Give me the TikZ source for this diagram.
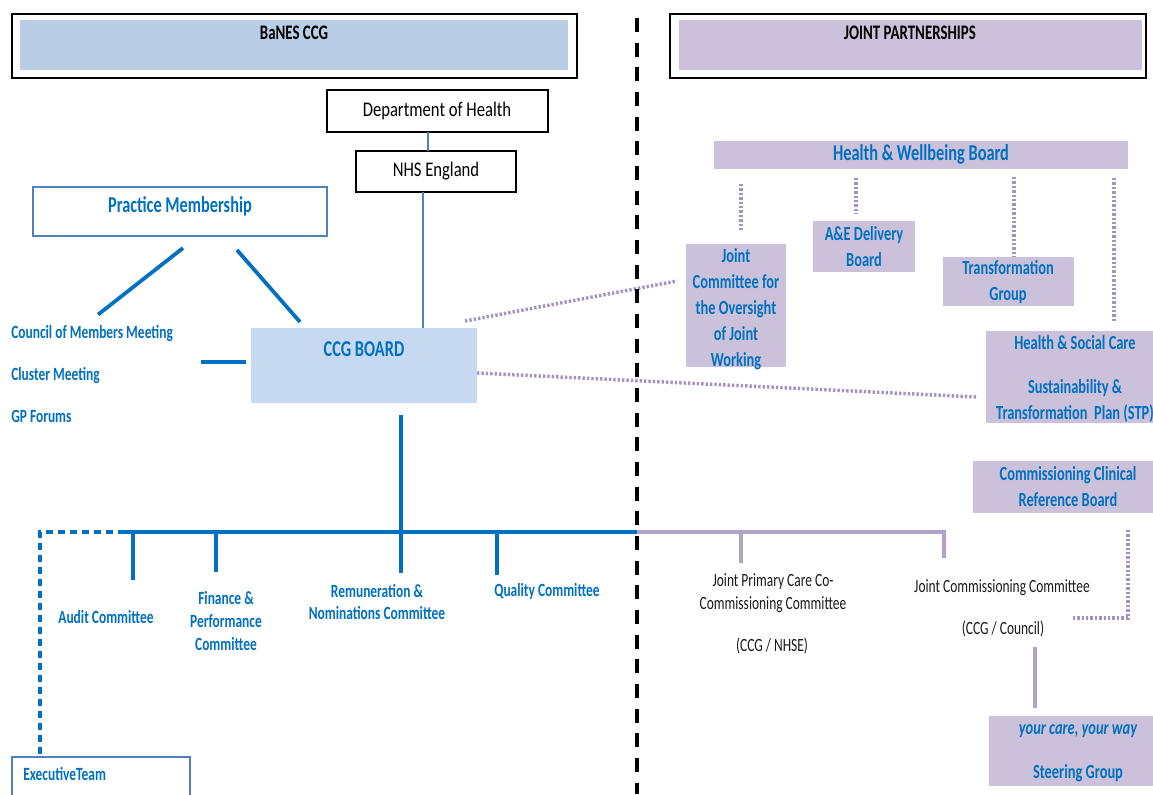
\documentclass[tikz,border=0pt]{standalone}
\usepackage{fontspec}
\setmainfont{Carlito}[FakeStretch=0.8]
\newfontfamily\tightfont{Carlito}[FakeStretch=0.72]
\usetikzlibrary{positioning,fit,calc}

\definecolor{hdrblue}{HTML}{B9CDE5}
\definecolor{boardblue}{HTML}{C6D9F1}
\definecolor{lilac}{HTML}{CCC1DA}
\definecolor{lilacline}{HTML}{B3A2C7}
\definecolor{dotlilac}{HTML}{A393C2}
\definecolor{orgblue}{HTML}{0070C0}
\definecolor{steel}{HTML}{4F81BD}
\definecolor{inkgrey}{HTML}{1A1A1A}

\tikzset{
  area/.style={fit={#1}, inner sep=0pt, outer sep=0pt},
  hdrframe/.style={draw=black, line width=1pt},
  plainbox/.style={draw=black, line width=0.9pt},
  plainlbl/.style={inner sep=0pt, font=\fontsize{15.6}{18}\selectfont},
  rimbox/.style={draw=steel, line width=0.8pt},
  jpbox/.style={fill=lilac},
  hdrlbl/.style={inner sep=0pt, font=\tightfont\bfseries\fontsize{15.5}{18}\selectfont},
  biglbl/.style={inner sep=0pt, text=orgblue, font=\tightfont\bfseries\fontsize{17}{20}\selectfont},
  boxlbl/.style={inner sep=0pt, align=center, text=orgblue, font=\tightfont\bfseries\fontsize{15}{19.5}\selectfont},
  ctte/.style={inner sep=0pt, align=center, text=orgblue, font=\tightfont\bfseries\fontsize{14}{17}\selectfont},
  jctte/.style={inner sep=0pt, align=center, text=inkgrey, font=\tightfont\fontsize{14}{17}\selectfont},
  ccgline/.style={draw=orgblue, line width=2.8pt},
  linkline/.style={draw=steel, line width=2.2pt},
  jpline/.style={draw=lilacline, line width=2.8pt},
  dotlink/.style={draw=dotlilac, line width=2.6pt, dash pattern=on 1.8pt off 1.5pt},
  dashlink/.style={draw=orgblue, line width=2.5pt, dash pattern=on 5.5pt off 3.5pt},
  divider/.style={draw=black, line width=2.6pt, dash pattern=on 10.5pt off 8pt},
}

\begin{document}
\begin{tikzpicture}[x=0.75pt,y=-0.75pt]
\useasboundingbox (0,0) rectangle (1153,794);

% headers
\node[area={(12,14) (577,78)}, hdrframe] (ccghdr) {};
\node[area={(20,20) (568,70)}, fill=hdrblue] (ccgband) {};
\node[hdrlbl] (ccgtitle) at (294,33) {BaNES CCG};
\node[area={(670,14) (1146,78)}, hdrframe] (jphdr) {};
\node[area={(679,20) (1142,70)}, fill=lilac] (jpband) {};
\node[hdrlbl] (jptitle) at (910,33) {JOINT PARTNERSHIPS};

% CCG side
\node[area={(327,90) (548,132)}, plainbox] (doh) {};
\node[plainlbl] (dohtext) at (437,111) {Department of Health};
\node[area={(356,151) (516,192)}, plainbox] (nhse) {};
\node[plainlbl] (nhsetext) at (436,171) {NHS England};
\node[area={(33,187) (327,236)}, rimbox] (pm) {};
\node[biglbl] (pmtext) at (180,206) {Practice Membership};
\node[area={(251,328) (477,403)}, fill=boardblue] (board) {};
\node[biglbl] (boardtext) at (364,349) {CCG BOARD};
\node[ctte, anchor=west] (council) at (11,334) {Council of Members Meeting};
\node[ctte, anchor=west] (cluster) at (11,376) {Cluster Meeting};
\node[ctte, anchor=west] (gpf) at (11,416) {GP Forums};

\draw[linkline] ($(doh.south)+(-9.5,0)$) -- ($(doh.south |- nhse.north)+(-9.5,0)$);
\draw[linkline] ($(nhse.south)+(-13,0)$) -- ($(nhse.south |- board.north)+(-13,0)$);
\draw[ccgline] ($(pm.south)+(3,12)$) -- ($(council.north)+(6,-11)$);
\draw[ccgline] ($(pm.south)+(57,14)$) -- ($(board.north west)+(49,-6)$);
\draw[ccgline] ($(board.west)+(-5,-3.5)$) -- ($(board.west)+(-50,-3.5)$);

% committees under the board
\coordinate (busW) at (40,532);
\coordinate (busM) at (125,532);
\coordinate (busE) at (637,532);
\draw[ccgline] ($(board.south)+(37,12)$) -- ($(board.south |- busE)+(37,0)$);
\draw[ccgline] (busM) -- (busE);
\node[area={(12,757) (190,800)}, rimbox] (exec) {};
\node[ctte, anchor=west] (exectext) at (23,774) {ExecutiveTeam};
\draw[dashlink] (busM) -- (busW) -- (busW |- exec.north);

\node[ctte] (audit) at (106,617) {Audit Committee};
\node[ctte] (finance) at (226,621) {Finance \&\\Performance\\Committee};
\node[ctte] (remun) at (377,602) {Remuneration \&\\Nominations Committee};
\node[ctte] (quality) at (547,591) {Quality Committee};
\foreach \tip/\px/\py in {dAudit/133/580, dFin/216/572, dRem/401/573, dQual/497/575}{
  \coordinate (\tip) at (\px,\py);
  \draw[ccgline] (\tip |- busE) -- (\tip);
}

% joint partnerships
\node[area={(714,141) (1128,169)}, jpbox] (hwb) {};
\node[biglbl] (hwbtext) at (921,154) {Health \& Wellbeing Board};
\node[area={(686,244) (786,367)}, jpbox] (jcow) {};
\node[boxlbl] (jcowtext) at (736,309) {Joint\\Committee for\\the Oversight\\of Joint\\Working};
\node[area={(813,221) (915,272)}, jpbox] (ae) {};
\node[boxlbl] (aetext) at (864,247) {A\&E Delivery\\Board};
\node[area={(943,257) (1074,306)}, jpbox] (tg) {};
\node[boxlbl] (tgtext) at (1008,282) {Transformation\\Group};
\node[area={(986,331) (1153,423)}, jpbox] (hsc) {};
\node[boxlbl] (hsctext) at (1075,379) {Health \& Social Care\\[14pt]Sustainability \&\\Transformation~~Plan (STP)};
\node[area={(973,461) (1153,513)}, jpbox] (crb) {};
\node[boxlbl] (crbtext) at (1068,487) {Commissioning Clinical\\Reference Board};
\node[area={(989,716) (1153,786)}, jpbox] (steer) {};
\node[boxlbl] (steertext) at (1078,753) {{\itshape your care, your way}\\[13.5pt]Steering Group};

% dotted links
\draw[dotlink] ($(board.north east)+(-12,-7)$) -- ($(jcow.west)+(-9,-24.5)$);
\draw[dotlink] ($(board.east)+(0,7.5)$) -- ($(hsc.west)+(-9,20)$);
\draw[dotlink] ($(jcow.north |- hwb.south)+(5,15)$) -- ($(jcow.north)+(5,-12)$);
\draw[dotlink] ($(ae.north |- hwb.south)+(-8,9)$) -- ($(ae.north)+(-8,-7)$);
\draw[dotlink] ($(tg.north |- hwb.south)+(5.5,8)$) -- ($(tg.north)+(5.5,0)$);
\draw[dotlink] ($(hsc.north |- hwb.south)+(44.5,9)$) -- ($(hsc.north)+(44.5,-8)$);
\draw[dotlink] ($(crb.south)+(65,17)$) -- ($(crb.south)+(65,105)$) -- ($(crb.south)+(9,105)$);

% joint committees
\coordinate (jbusE) at (944,532);
\coordinate (dJcc) at (944,558);
\coordinate (dJpc) at (741,563);
\draw[jpline] (busE) -- (jbusE) -- (dJcc);
\draw[jpline] (dJpc |- jbusE) -- (dJpc);
\node[jctte] (jpcc) at (773,593) {Joint Primary Care Co-\\Commissioning Committee};
\node[jctte] (jpccsub) at (772,646) {(CCG / NHSE)};
\node[jctte] (jcc) at (1002,588) {Joint Commissioning Committee};
\node[jctte] (jccsub) at (1003,629) {(CCG / Council)};
\draw[jpline] ($(jccsub.south)+(32,10)$) -- ($(steer.north)+(-36,-8)$);

% dividing line
\coordinate (divtop) at (637,18);
\coordinate (divbot) at (637,794);
\draw[divider] (divtop) -- (divbot);
\end{tikzpicture}
\end{document}
